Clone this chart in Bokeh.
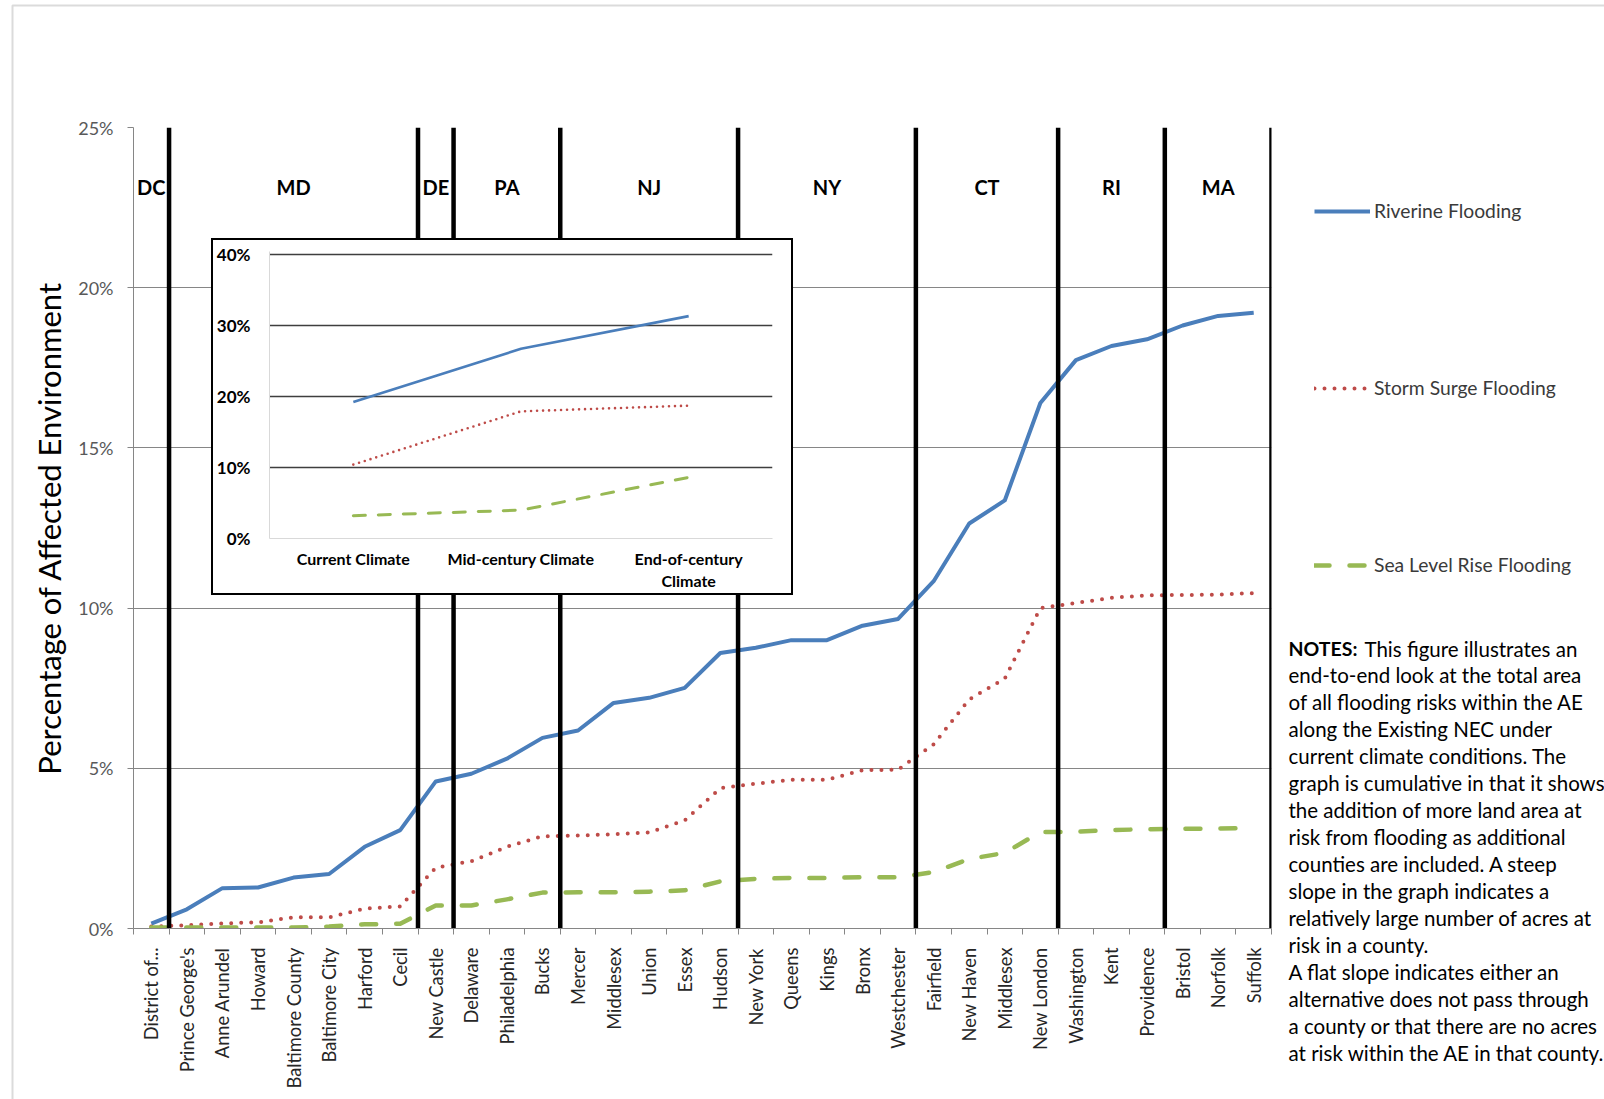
import math

import numpy as np
from bokeh.core.properties import value
from bokeh.embed import file_html
from bokeh.layouts import column
from bokeh.models import (BoxAnnotation, ColumnDataSource, FixedTicker,
                          Label, Legend, LegendItem, PrintfTickFormatter, Range1d)
from bokeh.plotting import figure
from bokeh.resources import INLINE

# ---- data: cumulative share of the affected environment, county by county ----
counties = ["District of...", "Prince George's", "Anne Arundel", "Howard", "Baltimore County",
            "Baltimore City", "Harford", "Cecil", "New Castle", "Delaware", "Philadelphia",
            "Bucks", "Mercer", "Middlesex", "Union", "Essex", "Hudson", "New York", "Queens",
            "Kings", "Bronx", "Westchester", "Fairfield", "New Haven", "Middlesex",
            "New London", "Washington", "Kent", "Providence", "Bristol", "Norfolk", "Suffolk"]
riverine = [0.15, 0.6, 1.26, 1.28, 1.59, 1.7, 2.55, 3.07, 4.59, 4.83, 5.3, 5.95, 6.18, 7.04,
            7.2, 7.51, 8.6, 8.76, 9.0, 9.0, 9.45, 9.66, 10.84, 12.64, 13.36, 16.4, 17.74,
            18.18, 18.39, 18.82, 19.12, 19.22]
storm_surge = [0.06, 0.1, 0.16, 0.19, 0.35, 0.35, 0.62, 0.69, 1.9, 2.1, 2.55, 2.88, 2.9, 2.94,
               3.0, 3.37, 4.38, 4.52, 4.64, 4.64, 4.94, 4.96, 5.75, 7.15, 7.8, 10.0, 10.16,
               10.32, 10.4, 10.41, 10.42, 10.47]
sea_level_rise = [0.03, 0.03, 0.03, 0.03, 0.03, 0.06, 0.13, 0.15, 0.72, 0.72, 0.91, 1.12, 1.13,
                  1.13, 1.15, 1.19, 1.47, 1.55, 1.58, 1.58, 1.6, 1.6, 1.76, 2.17, 2.36, 3.01,
                  3.02, 3.07, 3.1, 3.11, 3.12, 3.14]
states = ["DC", "MD", "DE", "PA", "NJ", "NY", "CT", "RI", "MA"]
counties_per_state = [1, 7, 1, 3, 5, 5, 4, 3, 3]
y_ticks = [0, 5, 10, 15, 20, 25]

# ---- inset: totals under three climate horizons ----
climate_periods = ["Current Climate", "Mid-century Climate", "End-of-century Climate"]
inset_riverine = [19.2, 26.7, 31.3]
inset_storm_surge = [10.4, 17.9, 18.7]
inset_sea_level_rise = [3.2, 4.0, 8.6]
inset_y_ticks = [0, 10, 20, 30, 40]

series_names = ["Riverine Flooding", "Storm Surge Flooding", "Sea Level Rise Flooding"]

notes_lead = "NOTES:"
notes_lines = [
    "This figure illustrates an",
    "end-to-end look at the total area",
    "of all flooding risks within the AE",
    "along the Existing NEC under",
    "current climate conditions. The",
    "graph is cumulative in that it shows",
    "the addition of more land area at",
    "risk from flooding as additional",
    "counties are included. A steep",
    "slope in the graph indicates a",
    "relatively large number of acres at",
    "risk in a county.",
    "A flat slope indicates either an",
    "alternative does not pass through",
    "a county or that there are no acres",
    "at risk within the AE in that county.",
]

# ---- styling ----
BLUE = "#4a7ebb"
RED = "#be4b48"
GREEN = "#98b954"
AXIS_GRAY = "#868686"
FONT = "Lato"

W, H = 1604, 1099
FRAME_L, FRAME_R, FRAME_T, FRAME_B = 133, 1271, 127, 928

RIV_STYLE = dict(line_color=BLUE, line_width=4, line_join="round")
STORM_STYLE = dict(line_color=RED, line_width=4, line_dash="0 10", line_cap="round", line_join="round")
SLR_STYLE = dict(line_color=GREEN, line_width=4.5, line_dash="15 20", line_cap="round", line_join="round")


def wrap_label(text, width=20):
    """Break a long category name onto two lines at its last space."""
    if len(text) <= width or " " not in text:
        return text
    head, tail = text.rsplit(" ", 1)
    return head + "\n" + tail


# ---- page layer: outer frame, legend and notes (page pixel coordinates) ----
base = figure(width=W, height=H, x_range=Range1d(0, W), y_range=Range1d(H, 0),
              output_backend="svg", toolbar_location=None,
              x_axis_location=None, y_axis_location=None, min_border=0, frame_align=False)
base.grid.visible = False
base.outline_line_color = None
base.background_fill_color = "white"
base.border_fill_color = "white"

base.add_layout(BoxAnnotation(left=12, right=W + 40, top=5, bottom=H + 40,
                              fill_alpha=0, line_color="#888888", line_width=2))

# legend keys: one undrawn point each, carrying the series line styles
nan = float("nan")
leg_riv = base.line(x=[nan], y=[nan], **RIV_STYLE)
leg_storm = base.line(x=[nan], y=[nan], **STORM_STYLE)
leg_slr = base.line(x=[nan], y=[nan], **SLR_STYLE)
legend = Legend(items=[LegendItem(label=series_names[0], renderers=[leg_riv]),
                       LegendItem(label=series_names[1], renderers=[leg_storm]),
                       LegendItem(label=series_names[2], renderers=[leg_slr])],
                location=(1314, H - 576), orientation="vertical",
                spacing=154, glyph_height=22, label_height=22, glyph_width=56,
                label_standoff=4, padding=0, margin=0,
                border_line_color=None, background_fill_alpha=0,
                label_text_font=FONT, label_text_font_size="19.3px",
                label_text_color="#3a3a3a")
base.add_layout(legend)

NOTE_X, NOTE_Y0, NOTE_DY = 1288, 648, 26.98
NOTE_SIZE = "20.5px"
base.add_layout(Label(x=NOTE_X, y=NOTE_Y0, text=notes_lead,
                      text_font=FONT, text_font_style="bold", text_font_size="19.5px",
                      text_color="black", text_baseline="middle", text_align="left"))
for i, line in enumerate(notes_lines):
    base.add_layout(Label(x=NOTE_X + (76 if i == 0 else 0), y=NOTE_Y0 + NOTE_DY * i, text=line,
                          text_font=FONT, text_font_size=NOTE_SIZE, text_color="black",
                          text_baseline="middle", text_align="left"))

# ---- main chart ----
n = len(counties)
x_centers = [i + 0.5 for i in range(n)]
state_ends = [int(v) for v in np.cumsum(counties_per_state)]
state_starts = [0] + state_ends[:-1]
state_mid = [(a + b) / 2 for a, b in zip(state_starts, state_ends)]
STATE_LABEL_Y = 23.13

p = figure(width=W, height=H, x_range=Range1d(0, n), y_range=Range1d(0, 25),
           output_backend="svg", toolbar_location=None, frame_align=False,
           min_border_left=FRAME_L, min_border_right=W - FRAME_R,
           min_border_top=FRAME_T, min_border_bottom=H - FRAME_B)
p.outline_line_color = None
p.background_fill_alpha = 0
p.border_fill_alpha = 0

xa = p.xaxis[0]
xa.ticker = FixedTicker(ticks=x_centers, minor_ticks=list(range(n + 1)))
xa.major_label_overrides = {c: name for c, name in zip(x_centers, counties)}
xa.major_label_orientation = math.pi / 2
xa.major_tick_out = 0
xa.major_tick_in = 0
xa.minor_tick_out = 6
xa.minor_tick_in = 0
xa.minor_tick_line_color = AXIS_GRAY
xa.axis_line_color = AXIS_GRAY
xa.major_label_text_font = FONT
xa.major_label_text_font_size = "18.3px"
xa.major_label_text_color = "#262626"
xa.major_label_standoff = 13

ya = p.yaxis[0]
ya.ticker = FixedTicker(ticks=y_ticks)
ya.formatter = PrintfTickFormatter(format="%d%%")
ya.major_tick_out = 6
ya.major_tick_in = 0
ya.minor_tick_out = 0
ya.minor_tick_in = 0
ya.major_tick_line_color = AXIS_GRAY
ya.axis_line_color = AXIS_GRAY
ya.major_label_text_font = FONT
ya.major_label_text_font_size = "18px"
ya.major_label_text_color = "#595959"
ya.major_label_standoff = 14
ya.axis_label = "Percentage of Affected Environment"
ya.axis_label_text_font = FONT
ya.axis_label_text_font_size = "31px"
ya.axis_label_text_font_style = "normal"
ya.axis_label_text_color = "#000000"
ya.axis_label_standoff = 7

p.xgrid.visible = False
p.ygrid.grid_line_color = AXIS_GRAY
p.ygrid.grid_line_width = 1

src = ColumnDataSource(dict(x=x_centers, riverine=riverine, storm=storm_surge, slr=sea_level_rise))
p.line("x", "riverine", source=src, **RIV_STYLE)
p.line("x", "storm", source=src, **STORM_STYLE)
p.line("x", "slr", source=src, **SLR_STYLE)

# state separators and state names
p.segment(x0=state_ends, y0=[0] * len(state_ends), x1=state_ends, y1=[25] * len(state_ends),
          line_color="black", line_width=4.5)
p.text(x=state_mid, y=[STATE_LABEL_Y] * len(states), text=states,
       text_font=value(FONT), text_font_style="bold", text_font_size="20px",
       text_color="black", text_align="center", text_baseline="middle")

# ---- inset chart ----
m = len(climate_periods)
period_x = [i + 0.5 for i in range(m)]
q = figure(width=578, height=353, x_range=Range1d(0, m), y_range=Range1d(0, 40.4),
           output_backend="svg", toolbar_location=None, frame_align=False,
           min_border_left=55, min_border_right=19, min_border_top=11, min_border_bottom=54)
q.outline_line_color = None
q.background_fill_color = "white"
q.border_fill_color = "white"
qy = q.yaxis[0]
qy.ticker = FixedTicker(ticks=inset_y_ticks)
qy.formatter = PrintfTickFormatter(format="%d%%")
qy.major_tick_out = 0
qy.major_tick_in = 0
qy.minor_tick_out = 0
qy.minor_tick_in = 0
qy.axis_line_color = "#d9d9d9"
qy.major_label_text_font = FONT
qy.major_label_text_font_style = "bold"
qy.major_label_text_font_size = "17px"
qy.major_label_text_color = "black"
qy.major_label_standoff = 19
qx = q.xaxis[0]
qx.ticker = FixedTicker(ticks=period_x)
qx.major_label_overrides = {c: wrap_label(name) for c, name in zip(period_x, climate_periods)}
qx.major_tick_out = 0
qx.major_tick_in = 0
qx.minor_tick_out = 0
qx.minor_tick_in = 0
qx.axis_line_color = "#d9d9d9"
qx.major_label_text_font = FONT
qx.major_label_text_font_style = "bold"
qx.major_label_text_font_size = "16px"
qx.major_label_text_color = "black"
qx.major_label_standoff = 10
q.xgrid.visible = False
q.ygrid.ticker = FixedTicker(ticks=[t for t in inset_y_ticks if t > 0])
q.ygrid.grid_line_color = "#3f3f3f"
q.ygrid.grid_line_width = 1.6

isrc = ColumnDataSource(dict(x=period_x, riverine=inset_riverine,
                             storm=inset_storm_surge, slr=inset_sea_level_rise))
q.line("x", "riverine", source=isrc, line_color=BLUE, line_width=2.6)
q.line("x", "storm", source=isrc, line_color=RED, line_width=2.6, line_dash="0 6", line_cap="round")
q.line("x", "slr", source=isrc, line_color=GREEN, line_width=3, line_dash="12 13", line_cap="round")

# stack the three layers on top of each other
INSET_LEFT, INSET_TOP = 213, 240
p.margin = (-H, 0, 0, 0)
q.margin = (-(H - INSET_TOP), 0, 0, INSET_LEFT)
q.styles = {"outline": "2px solid black", "background-color": "white"}

page = column(base, p, q, spacing=0)

open("out.html", "w").write(file_html(page, INLINE))
